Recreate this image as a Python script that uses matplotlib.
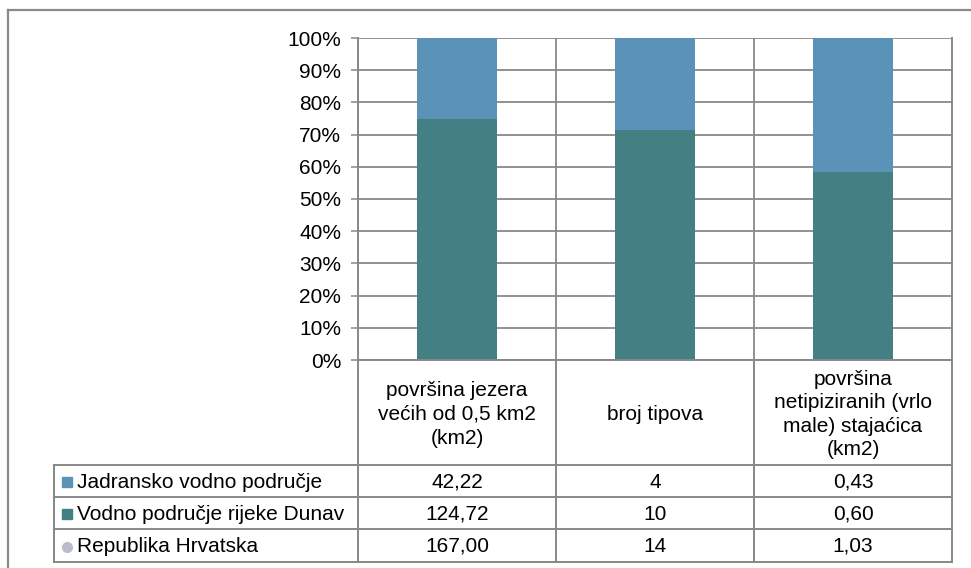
import matplotlib.pyplot as plt
from matplotlib.lines import Line2D
import numpy as np

plt.rcParams['font.family'] = ['Liberation Sans', 'DejaVu Sans']

# Data
categories = ['površina jezera\nvećih od 0,5 km2\n(km2)', 'broj tipova',
              'površina\nnetipiziranih (vrlo\nmale) stajaćica\n(km2)']
series_names = ['Jadransko vodno područje', 'Vodno područje rijeke Dunav', 'Republika Hrvatska']
jadran = [42.22, 4, 0.43]
dunav = [124.72, 10, 0.60]
hrvatska = [167.00, 14, 1.03]
value_labels = [['42,22', '4', '0,43'],
                ['124,72', '10', '0,60'],
                ['167,00', '14', '1,03']]

c_jadran = '#5b92b7'
c_dunav = '#437f83'
c_hr = '#b8bccb'
grid_c = '#888888'

W, H = 971, 568
fig = plt.figure(figsize=(W / 100, H / 100), dpi=100)

# plot area in pixels
px0, px1, py0, py1 = 358, 952, 38, 360
ax = fig.add_axes([px0 / W, 1 - py1 / H, (px1 - px0) / W, (py1 - py0) / H])

x = np.arange(len(categories))
tot = np.array(jadran) + np.array(dunav)
d_pct = np.array(dunav) / tot * 100
j_pct = np.array(jadran) / tot * 100
ax.bar(x, d_pct, width=0.4, color=c_dunav, zorder=3)
ax.bar(x, j_pct, width=0.4, bottom=d_pct, color=c_jadran, zorder=3)

ax.set_xlim(-0.5, 2.5)
ax.set_ylim(0, 100)
ax.set_yticks(np.arange(0, 101, 10))
ax.set_yticklabels([f'{v}%' for v in range(0, 101, 10)], fontsize=15)
ax.tick_params(axis='y', length=5, width=1.1, color=grid_c, pad=7)
ax.set_xticks([])
ax.grid(axis='y', color=grid_c, lw=1.3, zorder=0)
for b in [0.5, 1.5]:
    ax.axvline(b, color=grid_c, lw=1.3, zorder=0)
for s in ['top', 'bottom']:
    ax.spines[s].set_visible(False)
for s in ['left', 'right']:
    ax.spines[s].set_color(grid_c)
    ax.spines[s].set_linewidth(1.4)

# data table below plot
tx0, ty0, ty1 = 54, 360, 562
col_w = (px1 - px0) / 3
tab = fig.add_axes([tx0 / W, 1 - ty1 / H, (px1 - tx0) / W, (ty1 - ty0) / H])
left = -0.5 - (px0 - tx0) / col_w
tab.set_xlim(left, 2.5)
tab.set_ylim(ty1 - ty0, 0)
tab.axis('off')

rows = [0, 105, 137, 169, ty1 - ty0]
lw = 1.4
# horizontal lines
tab.plot([-0.5, 2.5], [0, 0], color=grid_c, lw=lw, clip_on=False)
for r in rows[1:]:
    tab.plot([left, 2.5], [r, r], color=grid_c, lw=lw, clip_on=False)
# vertical lines
for b in [-0.5, 0.5, 1.5, 2.5]:
    tab.plot([b, b], [0, rows[-1]], color=grid_c, lw=lw, clip_on=False)
tab.plot([left, left], [rows[1], rows[-1]], color=grid_c, lw=lw, clip_on=False)

for i, c in enumerate(categories):
    tab.text(x[i], rows[1] / 2 + 2, c, ha='center', va='center', fontsize=15,
             linespacing=1.3)

markers = [('s', c_jadran), ('s', c_dunav), ('o', c_hr)]
for k, name in enumerate(series_names):
    yc = (rows[k + 1] + rows[k + 2]) / 2 + 1
    m, mc = markers[k]
    tab.plot(left + 0.065, yc, marker=m, color=mc, ms=7, ls='none', clip_on=False)
    tab.text(left + 0.115, yc, name, ha='left', va='center', fontsize=15)
    for i in range(len(categories)):
        tab.text(x[i], yc, value_labels[k][i], ha='center', va='center', fontsize=15)

# outer chart border
fx = lambda v: v / W
fy = lambda v: 1 - v / H
fig.add_artist(Line2D([fx(8), 1.0], [fy(10), fy(10)], color='#8a8a8a', lw=1.6))
fig.add_artist(Line2D([fx(8), fx(8)], [fy(10), 0.0], color='#8a8a8a', lw=1.6))

fig.savefig('out.png', dpi=100)
